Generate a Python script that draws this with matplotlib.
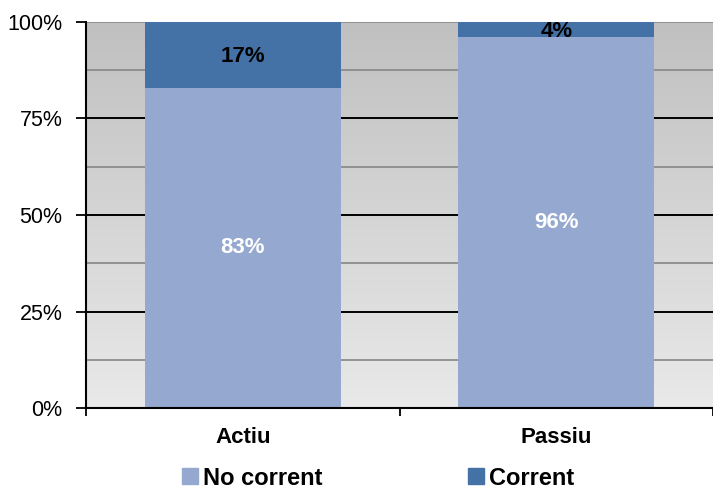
import matplotlib
matplotlib.use("Agg")
import matplotlib.pyplot as plt
import numpy as np
from matplotlib.lines import Line2D
from matplotlib.colors import LinearSegmentedColormap

categories = ["Actiu", "Passiu"]
no_corrent = [83, 96]
corrent = [17, 4]
series_names = ["No corrent", "Corrent"]
ytick_labels = ["0%", "25%", "50%", "75%", "100%"]

plt.rcParams['font.family'] = ['Liberation Sans', 'DejaVu Sans']

c_light = "#95A9D0"
c_dark = "#4472A7"

fig = plt.figure(figsize=(7.13, 4.9), dpi=100)
ax = fig.add_axes([86/713, 1-408/490, 1-86/713, (408-22)/490])

# gradient background (darker at top)
grad = np.linspace(0, 1, 256).reshape(-1, 1)
cmap = LinearSegmentedColormap.from_list("g", ["#c0c0c0", "#e9e9e9"])
ax.imshow(grad, cmap=cmap, aspect="auto", extent=[0, 1, 0, 1], origin="upper",
          transform=ax.transAxes, zorder=0)

x = np.arange(len(categories))
ax.set_xlim(-0.5, 1.5)
ax.set_ylim(0, 100)

# gridlines
for yv in [12.5, 37.5, 62.5, 87.5, 100]:
    ax.axhline(yv, color="#8c8c8c", lw=1.3, zorder=1)
for yv in [25, 50, 75]:
    ax.axhline(yv, color="black", lw=1.4, zorder=1)

w = 0.625
ax.bar(x, no_corrent, w, color=c_light, zorder=2, label=series_names[0])
ax.bar(x, corrent, w, bottom=no_corrent, color=c_dark, zorder=2, label=series_names[1])

for i in range(len(categories)):
    ax.text(x[i], no_corrent[i] / 2, f"{no_corrent[i]}%", ha="center", va="center",
            color="white", fontsize=16, fontweight="bold", zorder=3)
    ax.text(x[i], no_corrent[i] + corrent[i] / 2 - 0.5, f"{corrent[i]}%", ha="center", va="center",
            color="black", fontsize=16, fontweight="bold", zorder=3)

ax.set_yticks([0, 25, 50, 75, 100])
ax.set_yticklabels(ytick_labels, fontsize=15.5)
ax.set_xticks(x)
ax.set_xticklabels(categories, fontsize=16, fontweight="bold")
ax.tick_params(axis="x", which="major", length=0, pad=14)
ax.set_xticks([-0.5, 0.5, 1.5], minor=True)
ax.tick_params(axis="x", which="minor", length=6, width=1.3, direction="out")
ax.tick_params(axis="y", length=7, width=1.3, direction="out", pad=10)

for s in ["left", "bottom"]:
    ax.spines[s].set_linewidth(1.5)
    ax.spines[s].set_color("black")
ax.spines["top"].set_visible(False)
ax.spines["right"].set_visible(False)

handles = [Line2D([], [], marker="s", linestyle="none", markersize=12, color=c_light, markeredgecolor=c_light),
           Line2D([], [], marker="s", linestyle="none", markersize=12, color=c_dark, markeredgecolor=c_dark)]
leg = fig.legend(handles, series_names, loc="center", bbox_to_anchor=(377/713, 1-478/490),
                 ncol=2, frameon=False, prop={"size": 17, "weight": "bold"},
                 handletextpad=0.15, columnspacing=6.1, handlelength=0.8)

fig.savefig("out.png", dpi=100)
